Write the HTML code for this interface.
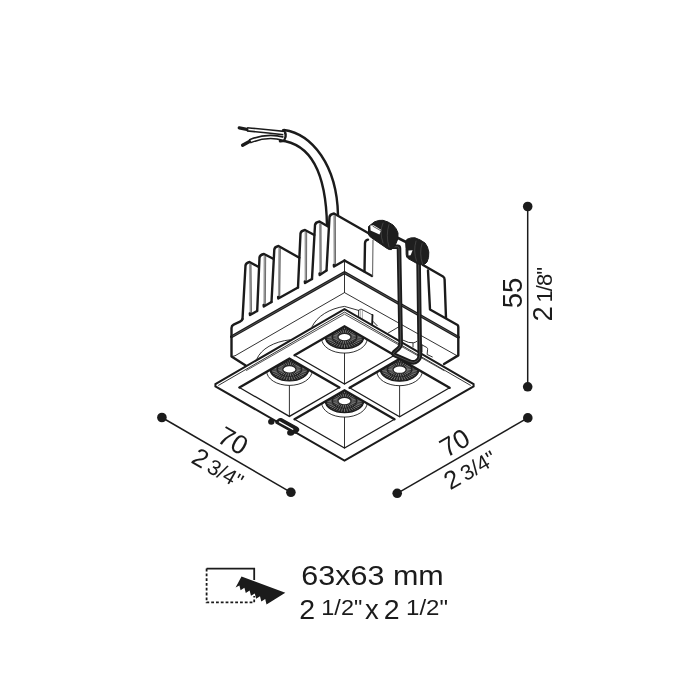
<!DOCTYPE html>
<html><head><meta charset="utf-8"><title>diagram</title>
<style>
html,body{margin:0;padding:0;background:#fff;}
body{width:700px;height:700px;overflow:hidden;font-family:"Liberation Sans",sans-serif;}
svg{display:block;filter:grayscale(1) blur(0.28px);}
text{font-family:"Liberation Sans",sans-serif;fill:#1b1b1b;}
</style></head><body>
<svg width="700" height="700" viewBox="0 0 700 700">
<rect width="700" height="700" fill="#ffffff"/>
<g id="cable" stroke-linecap="round" stroke-linejoin="round">
<path d="M284,130 C312,134 337,165 338,215 L327,226 C326,165 306,143 280,140.5 Z" fill="#fff" stroke="#1b1b1b" stroke-width="0" />
<path d="M284,130 C312,134 337,165 338,215" fill="none" stroke="#1b1b1b" stroke-width="2.4" />
<path d="M280,140.5 C306,143 326,165 327,226" fill="none" stroke="#1b1b1b" stroke-width="2.4" />
<path d="M283,130.2 Q287.6,134 284.4,139.6 Q282.6,141.8 280,141.3" fill="none" stroke="#1b1b1b" stroke-width="2.4" />
<path d="M283.5,133 Q265,130.8 247,129.4" fill="none" stroke="#1b1b1b" stroke-width="4.8" stroke-linecap="butt"/>
<path d="M284,133.1 Q265,130.8 246.6,129.3" fill="none" stroke="#fff" stroke-width="1.6" stroke-linecap="butt"/>
<path d="M246.8,129.4 L239.3,127.9" fill="none" stroke="#1b1b1b" stroke-width="3.4" />
<path d="M283,138.6 Q267,134.2 249.6,141.4" fill="none" stroke="#1b1b1b" stroke-width="4.8" stroke-linecap="butt"/>
<path d="M283.5,138.8 Q267,134.2 249.2,141.6" fill="none" stroke="#fff" stroke-width="1.6" stroke-linecap="butt"/>
<path d="M249.4,141.5 L242.6,145.2" fill="none" stroke="#1b1b1b" stroke-width="3.4" />
</g>
<g id="fins" stroke-linejoin="round" stroke-linecap="round">
<path d="M245.5,265.5 L249.5,262.0 L258.7,267.0 L257.0,311.0 L250.0,315.0 L242.5,319.0Z" fill="#fff" stroke="#1b1b1b" stroke-width="0" />
<path d="M259.5,257.5 L264.0,254.0 L273.2,258.7 L271.5,302.0 L263.8,306.5 L257.2,311.0Z" fill="#fff" stroke="#1b1b1b" stroke-width="0" />
<path d="M274.3,249.5 L278.5,246.0 L299.3,257.7 L298.0,287.5 L278.3,298.5 L271.5,302.0Z" fill="#fff" stroke="#1b1b1b" stroke-width="0" />
<path d="M300.5,233.5 L305.0,230.0 L314.3,235.0 L312.0,279.0 L305.0,283.0 L298.0,287.5Z" fill="#fff" stroke="#1b1b1b" stroke-width="0" />
<path d="M315.0,225.0 L319.5,221.5 L328.0,226.5 L326.5,270.5 L319.7,275.0 L312.0,279.0Z" fill="#fff" stroke="#1b1b1b" stroke-width="0" />
<path d="M329.5,217.0 L334.0,213.5 L369.0,233.5 L344.5,260.5 L334.0,266.5 L326.5,270.5Z" fill="#fff" stroke="#1b1b1b" stroke-width="0" />
<line x1="250.0" y1="264.5" x2="250.6" y2="314" stroke="#9a9a9a" stroke-width="2"/>
<line x1="251.1" y1="264.5" x2="251.5" y2="314" stroke="#444" stroke-width="0.7"/>
<path d="M242.5,319 L245.5,265.5 Q245.8,262.8 249.5,262 L258.7,267" fill="none" stroke="#1b1b1b" stroke-width="2.4" />
<path d="M249.8,313.4 L250,315 L257,311" fill="none" stroke="#1b1b1b" stroke-width="2.4" />
<line x1="264.6" y1="256.5" x2="264.40000000000003" y2="305.5" stroke="#9a9a9a" stroke-width="2"/>
<line x1="265.7" y1="256.5" x2="265.3" y2="305.5" stroke="#444" stroke-width="0.7"/>
<path d="M257.2,311 L259.5,257.5 Q259.8,254.8 264,254 L273.2,258.7" fill="none" stroke="#1b1b1b" stroke-width="2.4" />
<path d="M263.6,304.9 L263.8,306.5 L271.5,302" fill="none" stroke="#1b1b1b" stroke-width="2.4" />
<line x1="279.3" y1="248.5" x2="278.90000000000003" y2="297.5" stroke="#9a9a9a" stroke-width="2"/>
<line x1="280.4" y1="248.5" x2="279.8" y2="297.5" stroke="#444" stroke-width="0.7"/>
<path d="M271.5,302 L274.3,249.5 Q274.6,246.8 278.5,246 L299.3,257.7" fill="none" stroke="#1b1b1b" stroke-width="2.4" />
<path d="M278.1,296.9 L278.3,298.5 L298,287.5" fill="none" stroke="#1b1b1b" stroke-width="2.4" />
<line x1="305.6" y1="232.5" x2="305.6" y2="282" stroke="#9a9a9a" stroke-width="2"/>
<line x1="306.7" y1="232.5" x2="306.5" y2="282" stroke="#444" stroke-width="0.7"/>
<path d="M298,287.5 L300.5,233.5 Q300.8,230.8 305,230 L314.3,235" fill="none" stroke="#1b1b1b" stroke-width="2.4" />
<path d="M304.8,281.4 L305,283 L312,279" fill="none" stroke="#1b1b1b" stroke-width="2.4" />
<line x1="320.0" y1="224.0" x2="320.3" y2="274" stroke="#9a9a9a" stroke-width="2"/>
<line x1="321.09999999999997" y1="224.0" x2="321.2" y2="274" stroke="#444" stroke-width="0.7"/>
<path d="M312,279 L315,225 Q315.3,222.3 319.5,221.5 L328,226.5" fill="none" stroke="#1b1b1b" stroke-width="2.4" />
<path d="M319.5,273.4 L319.7,275 L326.5,270.5" fill="none" stroke="#1b1b1b" stroke-width="2.4" />
<line x1="334.3" y1="216.0" x2="334.6" y2="265.5" stroke="#9a9a9a" stroke-width="2"/>
<line x1="335.4" y1="216.0" x2="335.5" y2="265.5" stroke="#444" stroke-width="0.7"/>
<path d="M326.5,270.5 L329.5,217 Q329.8,214.3 334,213.5 L369,233.5" fill="none" stroke="#1b1b1b" stroke-width="2.4" />
<path d="M333.8,264.9 L334,266.5 L344.5,260.5" fill="none" stroke="#1b1b1b" stroke-width="2.4" />
</g>
<g id="housing" stroke-linejoin="round" stroke-linecap="round">
<path d="M242.5,319 Q242.3,320.6 240,321.6 L233.6,324.6 Q231.5,325.6 231.5,328 L231.5,356.5 L245.7,365.4" fill="none" stroke="#1b1b1b" stroke-width="2.4" />
<path d="M231.5,336.8 L344.5,272.6 L458.3,337.2" fill="none" stroke="#1b1b1b" stroke-width="3.0" />
<path d="M233,336 L344.5,272.6 L457,336.5" fill="none" stroke="#8a8a8a" stroke-width="0.5" />
<path d="M231.5,356.5 L235,355.8 L344.5,292.6 L456.8,355.6" fill="none" stroke="#1b1b1b" stroke-width="0.9" />
<path d="M344.5,261 L344.5,292.6" fill="none" stroke="#1b1b1b" stroke-width="0.9" />
<path d="M344.5,260.5 L372,276" fill="none" stroke="#1b1b1b" stroke-width="2.4" />
<path d="M364.5,271.5 L365,243 Q365.2,240.3 368,239.6" fill="none" stroke="#1b1b1b" stroke-width="2.4" />
<path d="M373,240 L372.6,276" fill="none" stroke="#555" stroke-width="1.0" />
<path d="M423,265 L443,276.5 Q444.6,277.5 444.6,279.5 L446,318" fill="none" stroke="#1b1b1b" stroke-width="2.4" />
<path d="M428,270.5 L430,309.5 L457.5,325 Q458.3,325.6 458.3,327 L458.3,355.4 L444,364" fill="none" stroke="#1b1b1b" stroke-width="2.4" />
<path d="M257,358.7 C261,349 274,341.5 290,339.8" fill="none" stroke="#1b1b1b" stroke-width="0.9" />
<path d="M312,326.8 C317,316 330,308.5 344.5,306.4 L358.4,310.4" fill="none" stroke="#1b1b1b" stroke-width="0.9" />
<path d="M358.4,310.4 L361,309 L372.6,315 L372.3,324" fill="none" stroke="#1b1b1b" stroke-width="0.9" />
<path d="M372.5,315 L372.2,324" fill="none" stroke="#1b1b1b" stroke-width="1.8" />
<path d="M358.6,310.6 L358.6,318" fill="none" stroke="#1b1b1b" stroke-width="0.9" />
<path d="M360.3,310 L360.3,318" fill="none" stroke="#777" stroke-width="0.6" />
<path d="M362.4,310.2 L362.4,319" fill="none" stroke="#777" stroke-width="0.6" />
<path d="M373,321.4 L377.3,325.8" fill="none" stroke="#1b1b1b" stroke-width="0.9" />
<path d="M387.6,333.4 L399,326.7" fill="none" stroke="#1b1b1b" stroke-width="0.9" />
<path d="M403,340.2 Q409,343.4 413.6,342.8 Q416,342.2 417,341.2" fill="none" stroke="#1b1b1b" stroke-width="0.9" />
<path d="M413,343 L413,347" fill="none" stroke="#1b1b1b" stroke-width="0.9" />
<path d="M422,344.9 L426.7,347.4 Q427.8,348.2 427.6,349.6 L427.1,354.5 L432.3,356.9" fill="none" stroke="#1b1b1b" stroke-width="0.9" />
<path d="M422,344.9 L422,352" fill="none" stroke="#1b1b1b" stroke-width="0.9" />
</g>
<g id="flange" stroke-linejoin="miter" stroke-linecap="round">
<path d="M344.5,309.1 L215.4,384.1 L215.4,386.3 L344.5,460.6 L473.6,386.3 L473.6,384.1Z" fill="#fff" stroke="#1b1b1b" stroke-width="2.0" />
<path d="M218.6,385.3 L344.5,312.1 L470.4,385.3" fill="none" stroke="#1b1b1b" stroke-width="0.9" />
<path d="M246.5,370.4 L344.5,314.2 L444,370.6" fill="none" stroke="#1b1b1b" stroke-width="0.75" />
<clipPath id="cc0"><path d="M344.5,326.3 L294.5,355.2 L344.5,384.1 L394.5,355.2Z"/></clipPath>
<g clip-path="url(#cc0)">
<ellipse cx="344.5" cy="336.90000000000003" rx="19.3" ry="11.7" fill="#222"/>
<path d="M352.10,336.90L355.50,336.90M351.88,338.00L355.18,338.50M351.23,339.04L354.24,340.00M350.19,339.96L352.73,341.32M348.82,340.69L350.75,342.39M347.19,341.21L348.40,343.14M345.42,341.47L345.83,343.52M343.58,341.47L343.17,343.52M341.81,341.21L340.60,343.14M340.18,340.69L338.25,342.39M338.81,339.96L336.27,341.32M337.77,339.04L334.76,340.00M337.12,338.00L333.82,338.50M336.90,336.90L333.50,336.90M337.12,335.80L333.82,335.30M337.77,334.76L334.76,333.80M338.81,333.84L336.27,332.48M340.18,333.11L338.25,331.41M341.81,332.59L340.60,330.66M343.58,332.33L343.17,330.28M345.42,332.33L345.83,330.28M347.19,332.59L348.40,330.66M348.82,333.11L350.75,331.41M350.19,333.84L352.73,332.48M351.23,334.76L354.24,333.80M351.88,335.80L355.18,335.30" stroke="#b0b0b0" stroke-width="0.6" fill="none"/>
<path d="M357.85,337.57L361.74,337.77M357.49,338.89L361.27,339.47M356.77,340.16L360.34,341.11M355.72,341.34L358.98,342.64M354.36,342.40L357.23,344.00M352.73,343.31L355.13,345.18M350.88,344.04L352.73,346.12M348.85,344.58L350.12,346.82M346.71,344.91L347.35,347.24M344.50,345.02L344.50,347.39M342.29,344.91L341.65,347.24M340.15,344.58L338.88,346.82M338.12,344.04L336.27,346.12M336.27,343.31L333.87,345.18M334.64,342.40L331.77,344.00M333.28,341.34L330.02,342.64M332.23,340.16L328.66,341.11M331.51,338.89L327.73,339.47M331.15,337.57L327.26,337.77M331.15,336.23L327.26,336.03M331.51,334.91L327.73,334.33M332.23,333.64L328.66,332.69M333.28,332.46L330.02,331.16M334.64,331.40L331.77,329.80M336.27,330.49L333.87,328.62M338.12,329.76L336.27,327.68M340.15,329.22L338.88,326.98M342.29,328.89L341.65,326.56M344.50,328.78L344.50,326.41M346.71,328.89L347.35,326.56M348.85,329.22L350.12,326.98M350.88,329.76L352.73,327.68M352.73,330.49L355.13,328.62M354.36,331.40L357.23,329.80M355.72,332.46L358.98,331.16M356.77,333.64L360.34,332.69M357.49,334.91L361.27,334.33M357.85,336.23L361.74,336.03" stroke="#b0b0b0" stroke-width="0.6" fill="none"/>
<ellipse cx="344.5" cy="336.90000000000003" rx="19.3" ry="11.7" fill="none" stroke="#1b1b1b" stroke-width="1.2"/>
<ellipse cx="344.5" cy="337.1" rx="5.9" ry="3.1" fill="#fff"/>
<ellipse cx="344.5" cy="338.70000000000005" rx="22.8" ry="14.4" fill="none" stroke="#1b1b1b" stroke-width="0.9"/>
</g>
<path d="M344.5,353.3 L344.5,384.09999999999997" fill="none" stroke="#1b1b1b" stroke-width="0.9" />
<path d="M294.5,355.2 L344.5,384.1 L394.5,355.2" fill="none" stroke="#1b1b1b" stroke-width="1.3" />
<path d="M294.5,355.2 L344.5,326.3 L394.5,355.2" fill="none" stroke="#1b1b1b" stroke-width="2.4" />
<clipPath id="cc1"><path d="M289.4,358.6 L239.4,387.5 L289.4,416.4 L339.4,387.5Z"/></clipPath>
<g clip-path="url(#cc1)">
<ellipse cx="289.4" cy="369.20000000000005" rx="19.3" ry="11.7" fill="#222"/>
<path d="M297.00,369.20L300.40,369.20M296.78,370.30L300.08,370.80M296.13,371.34L299.14,372.30M295.09,372.26L297.63,373.62M293.72,372.99L295.65,374.69M292.09,373.51L293.30,375.44M290.32,373.77L290.73,375.82M288.48,373.77L288.07,375.82M286.71,373.51L285.50,375.44M285.08,372.99L283.15,374.69M283.71,372.26L281.17,373.62M282.67,371.34L279.66,372.30M282.02,370.30L278.72,370.80M281.80,369.20L278.40,369.20M282.02,368.10L278.72,367.60M282.67,367.06L279.66,366.10M283.71,366.14L281.17,364.78M285.08,365.41L283.15,363.71M286.71,364.89L285.50,362.96M288.48,364.63L288.07,362.58M290.32,364.63L290.73,362.58M292.09,364.89L293.30,362.96M293.72,365.41L295.65,363.71M295.09,366.14L297.63,364.78M296.13,367.06L299.14,366.10M296.78,368.10L300.08,367.60" stroke="#b0b0b0" stroke-width="0.6" fill="none"/>
<path d="M302.75,369.87L306.64,370.07M302.39,371.19L306.17,371.77M301.67,372.46L305.24,373.41M300.62,373.64L303.88,374.94M299.26,374.70L302.13,376.30M297.63,375.61L300.03,377.48M295.78,376.34L297.63,378.42M293.75,376.88L295.02,379.12M291.61,377.21L292.25,379.54M289.40,377.32L289.40,379.69M287.19,377.21L286.55,379.54M285.05,376.88L283.78,379.12M283.02,376.34L281.17,378.42M281.17,375.61L278.77,377.48M279.54,374.70L276.67,376.30M278.18,373.64L274.92,374.94M277.13,372.46L273.56,373.41M276.41,371.19L272.63,371.77M276.05,369.87L272.16,370.07M276.05,368.53L272.16,368.33M276.41,367.21L272.63,366.63M277.13,365.94L273.56,364.99M278.18,364.76L274.92,363.46M279.54,363.70L276.67,362.10M281.17,362.79L278.77,360.92M283.02,362.06L281.17,359.98M285.05,361.52L283.78,359.28M287.19,361.19L286.55,358.86M289.40,361.08L289.40,358.71M291.61,361.19L292.25,358.86M293.75,361.52L295.02,359.28M295.78,362.06L297.63,359.98M297.63,362.79L300.03,360.92M299.26,363.70L302.13,362.10M300.62,364.76L303.88,363.46M301.67,365.94L305.24,364.99M302.39,367.21L306.17,366.63M302.75,368.53L306.64,368.33" stroke="#b0b0b0" stroke-width="0.6" fill="none"/>
<ellipse cx="289.4" cy="369.20000000000005" rx="19.3" ry="11.7" fill="none" stroke="#1b1b1b" stroke-width="1.2"/>
<ellipse cx="289.4" cy="369.40000000000003" rx="5.9" ry="3.1" fill="#fff"/>
<ellipse cx="289.4" cy="371.00000000000006" rx="22.8" ry="14.4" fill="none" stroke="#1b1b1b" stroke-width="0.9"/>
</g>
<path d="M289.4,385.6 L289.4,416.4" fill="none" stroke="#1b1b1b" stroke-width="0.9" />
<path d="M239.4,387.5 L289.4,416.4 L339.4,387.5" fill="none" stroke="#1b1b1b" stroke-width="1.3" />
<path d="M239.4,387.5 L289.4,358.6 L339.4,387.5" fill="none" stroke="#1b1b1b" stroke-width="2.4" />
<clipPath id="cc2"><path d="M399.6,358.9 L349.6,387.8 L399.6,416.7 L449.6,387.8Z"/></clipPath>
<g clip-path="url(#cc2)">
<ellipse cx="399.6" cy="369.50000000000006" rx="19.3" ry="11.7" fill="#222"/>
<path d="M407.20,369.50L410.60,369.50M406.98,370.60L410.28,371.10M406.33,371.64L409.34,372.60M405.29,372.56L407.83,373.92M403.92,373.29L405.85,374.99M402.29,373.81L403.50,375.74M400.52,374.07L400.93,376.12M398.68,374.07L398.27,376.12M396.91,373.81L395.70,375.74M395.28,373.29L393.35,374.99M393.91,372.56L391.37,373.92M392.87,371.64L389.86,372.60M392.22,370.60L388.92,371.10M392.00,369.50L388.60,369.50M392.22,368.40L388.92,367.90M392.87,367.36L389.86,366.40M393.91,366.44L391.37,365.08M395.28,365.71L393.35,364.01M396.91,365.19L395.70,363.26M398.68,364.93L398.27,362.88M400.52,364.93L400.93,362.88M402.29,365.19L403.50,363.26M403.92,365.71L405.85,364.01M405.29,366.44L407.83,365.08M406.33,367.36L409.34,366.40M406.98,368.40L410.28,367.90" stroke="#b0b0b0" stroke-width="0.6" fill="none"/>
<path d="M412.95,370.17L416.84,370.37M412.59,371.49L416.37,372.07M411.87,372.76L415.44,373.71M410.82,373.94L414.08,375.24M409.46,375.00L412.33,376.60M407.83,375.91L410.23,377.78M405.98,376.64L407.83,378.72M403.95,377.18L405.22,379.42M401.81,377.51L402.45,379.84M399.60,377.62L399.60,379.99M397.39,377.51L396.75,379.84M395.25,377.18L393.98,379.42M393.22,376.64L391.37,378.72M391.37,375.91L388.97,377.78M389.74,375.00L386.87,376.60M388.38,373.94L385.12,375.24M387.33,372.76L383.76,373.71M386.61,371.49L382.83,372.07M386.25,370.17L382.36,370.37M386.25,368.83L382.36,368.63M386.61,367.51L382.83,366.93M387.33,366.24L383.76,365.29M388.38,365.06L385.12,363.76M389.74,364.00L386.87,362.40M391.37,363.09L388.97,361.22M393.22,362.36L391.37,360.28M395.25,361.82L393.98,359.58M397.39,361.49L396.75,359.16M399.60,361.38L399.60,359.01M401.81,361.49L402.45,359.16M403.95,361.82L405.22,359.58M405.98,362.36L407.83,360.28M407.83,363.09L410.23,361.22M409.46,364.00L412.33,362.40M410.82,365.06L414.08,363.76M411.87,366.24L415.44,365.29M412.59,367.51L416.37,366.93M412.95,368.83L416.84,368.63" stroke="#b0b0b0" stroke-width="0.6" fill="none"/>
<ellipse cx="399.6" cy="369.50000000000006" rx="19.3" ry="11.7" fill="none" stroke="#1b1b1b" stroke-width="1.2"/>
<ellipse cx="399.6" cy="369.70000000000005" rx="5.9" ry="3.1" fill="#fff"/>
<ellipse cx="399.6" cy="371.30000000000007" rx="22.8" ry="14.4" fill="none" stroke="#1b1b1b" stroke-width="0.9"/>
</g>
<path d="M399.6,385.90000000000003 L399.6,416.7" fill="none" stroke="#1b1b1b" stroke-width="0.9" />
<path d="M349.6,387.8 L399.6,416.7 L449.6,387.8" fill="none" stroke="#1b1b1b" stroke-width="1.3" />
<path d="M349.6,387.8 L399.6,358.9 L449.6,387.8" fill="none" stroke="#1b1b1b" stroke-width="2.4" />
<clipPath id="cc3"><path d="M344.5,390.3 L294.5,419.2 L344.5,448.1 L394.5,419.2Z"/></clipPath>
<g clip-path="url(#cc3)">
<ellipse cx="344.5" cy="400.90000000000003" rx="19.3" ry="11.7" fill="#222"/>
<path d="M352.10,400.90L355.50,400.90M351.88,402.00L355.18,402.50M351.23,403.04L354.24,404.00M350.19,403.96L352.73,405.32M348.82,404.69L350.75,406.39M347.19,405.21L348.40,407.14M345.42,405.47L345.83,407.52M343.58,405.47L343.17,407.52M341.81,405.21L340.60,407.14M340.18,404.69L338.25,406.39M338.81,403.96L336.27,405.32M337.77,403.04L334.76,404.00M337.12,402.00L333.82,402.50M336.90,400.90L333.50,400.90M337.12,399.80L333.82,399.30M337.77,398.76L334.76,397.80M338.81,397.84L336.27,396.48M340.18,397.11L338.25,395.41M341.81,396.59L340.60,394.66M343.58,396.33L343.17,394.28M345.42,396.33L345.83,394.28M347.19,396.59L348.40,394.66M348.82,397.11L350.75,395.41M350.19,397.84L352.73,396.48M351.23,398.76L354.24,397.80M351.88,399.80L355.18,399.30" stroke="#b0b0b0" stroke-width="0.6" fill="none"/>
<path d="M357.85,401.57L361.74,401.77M357.49,402.89L361.27,403.47M356.77,404.16L360.34,405.11M355.72,405.34L358.98,406.64M354.36,406.40L357.23,408.00M352.73,407.31L355.13,409.18M350.88,408.04L352.73,410.12M348.85,408.58L350.12,410.82M346.71,408.91L347.35,411.24M344.50,409.02L344.50,411.39M342.29,408.91L341.65,411.24M340.15,408.58L338.88,410.82M338.12,408.04L336.27,410.12M336.27,407.31L333.87,409.18M334.64,406.40L331.77,408.00M333.28,405.34L330.02,406.64M332.23,404.16L328.66,405.11M331.51,402.89L327.73,403.47M331.15,401.57L327.26,401.77M331.15,400.23L327.26,400.03M331.51,398.91L327.73,398.33M332.23,397.64L328.66,396.69M333.28,396.46L330.02,395.16M334.64,395.40L331.77,393.80M336.27,394.49L333.87,392.62M338.12,393.76L336.27,391.68M340.15,393.22L338.88,390.98M342.29,392.89L341.65,390.56M344.50,392.78L344.50,390.41M346.71,392.89L347.35,390.56M348.85,393.22L350.12,390.98M350.88,393.76L352.73,391.68M352.73,394.49L355.13,392.62M354.36,395.40L357.23,393.80M355.72,396.46L358.98,395.16M356.77,397.64L360.34,396.69M357.49,398.91L361.27,398.33M357.85,400.23L361.74,400.03" stroke="#b0b0b0" stroke-width="0.6" fill="none"/>
<ellipse cx="344.5" cy="400.90000000000003" rx="19.3" ry="11.7" fill="none" stroke="#1b1b1b" stroke-width="1.2"/>
<ellipse cx="344.5" cy="401.1" rx="5.9" ry="3.1" fill="#fff"/>
<ellipse cx="344.5" cy="402.70000000000005" rx="22.8" ry="14.4" fill="none" stroke="#1b1b1b" stroke-width="0.9"/>
</g>
<path d="M344.5,417.3 L344.5,448.09999999999997" fill="none" stroke="#1b1b1b" stroke-width="0.9" />
<path d="M294.5,419.2 L344.5,448.1 L394.5,419.2" fill="none" stroke="#1b1b1b" stroke-width="1.3" />
<path d="M294.5,419.2 L344.5,390.3 L394.5,419.2" fill="none" stroke="#1b1b1b" stroke-width="2.4" />
</g>
<g id="spring" stroke-linejoin="round" stroke-linecap="round">
<path d="M396,237 L407,242.5" fill="none" stroke="#1b1b1b" stroke-width="2.6" />
<path d="M392.6,246.8 L397.6,246.8 Q399,246.8 399,248.6 L400.7,343.5 Q400.8,346.6 398.5,348.6 L394.4,352 Q392.2,354 394.8,355.2 L409.6,361.6 Q414,363.4 417,361 Q419.8,358.8 419.8,355.5 L418.6,263" fill="none" stroke="#1b1b1b" stroke-width="4.6" />
<path d="M392.6,246.8 L397.6,246.8 Q399,246.8 399,248.6 L400.7,343.5 Q400.8,346.6 398.5,348.6 L394.4,352 Q392.2,354 394.8,355.2 L409.6,361.6 Q414,363.4 417,361 Q419.8,358.8 419.8,355.5 L418.6,263" fill="none" stroke="#5a5a5a" stroke-width="0.8" />
<path d="M368.5,234 L368.5,226.5 L372,223.8 L374.5,221.8 Q379,219.8 383,220.3 Q388,221.4 393,225 Q396.8,228.6 398,233 Q398.6,239 396,243.5 Q394,247.4 391.5,249.6 Q389.4,250 387,248.4 L371,237.4 Q368.5,236 368.5,234 Z" fill="#1e1e1e" stroke="#1b1b1b" stroke-width="1.0" />
<path d="M370.3,225.6 L373.6,225.2 L381.4,230 L379.4,234.4 L370.6,230.4 Z" fill="#fff" stroke="#1b1b1b" stroke-width="0.0" />
<path d="M373,226.3 L380.6,230.6" fill="none" stroke="#333" stroke-width="0.8" />
<path d="M383,223 Q379,232 383,243" fill="none" stroke="#555" stroke-width="0.6" />
<path d="M389,224.5 Q385.5,235 389,247" fill="none" stroke="#555" stroke-width="0.6" />
<path d="M406,248 L405.6,241.2 L407,239.3 Q411,237.2 415,237.8 Q420.5,239.6 425,243 Q428,246.4 428.8,252 Q429.2,258 427,262 Q425.4,264.6 422,264.8 Q419,264.6 416,263 L408,258.5 Q406.3,257.4 406.2,255 Z" fill="#1e1e1e" stroke="#1b1b1b" stroke-width="1.0" />
<path d="M408.4,250.6 L412.6,250.2 L410.6,255.2 L408.5,255.6 Z" fill="#fff" stroke="#1b1b1b" stroke-width="0.0" />
<path d="M416,241 Q413,251 416.5,261" fill="none" stroke="#555" stroke-width="0.6" />
<path d="M422,243.5 Q419,253 422.5,264" fill="none" stroke="#555" stroke-width="0.6" />
</g>
<g id="clip" stroke-linejoin="round" stroke-linecap="round">
<ellipse cx="271.3" cy="421.8" rx="3.2" ry="3.0" fill="#1b1b1b"/>
<ellipse cx="290.7" cy="432.7" rx="3.6" ry="3.0" fill="#1b1b1b"/>
<path d="M276,421.4 L279.4,418.9 Q280.6,418.3 282,419 L297,427.3 Q299.2,428.8 298.4,430.6 L296.6,432.6 Q295,433.6 293.4,432.6 L276,422.8 Z" fill="#1b1b1b" stroke="#1b1b1b" stroke-width="1.4" />
<path d="M279.4,421.9 L292.8,429.3" fill="none" stroke="#fff" stroke-width="1.3" />
</g>
<g id="dims">
<line x1="161.9" y1="417.5" x2="290.9" y2="492.3" stroke="#1b1b1b" stroke-width="1.5"/>
<circle cx="161.9" cy="417.5" r="4.8" fill="#1b1b1b"/>
<circle cx="290.9" cy="492.3" r="4.8" fill="#1b1b1b"/>
<line x1="397.2" y1="493.3" x2="527.8" y2="417.9" stroke="#1b1b1b" stroke-width="1.5"/>
<circle cx="397.2" cy="493.3" r="4.8" fill="#1b1b1b"/>
<circle cx="527.8" cy="417.9" r="4.8" fill="#1b1b1b"/>
<line x1="527.7" y1="206.5" x2="527.7" y2="386.8" stroke="#1b1b1b" stroke-width="1.5"/>
<circle cx="527.7" cy="206.5" r="4.8" fill="#1b1b1b"/>
<circle cx="527.7" cy="386.8" r="4.8" fill="#1b1b1b"/>
<text transform="translate(215.8,441.2) rotate(30)" font-size="26.5">70</text>
<text transform="translate(190,462) rotate(30)" font-size="25.5">2<tspan font-size="21.5" dx="3.6">3/4&quot;</tspan></text>
<text transform="translate(446.5,458.1) rotate(-30)" font-size="26.5">70</text>
<text transform="translate(450.3,490.4) rotate(-30)" font-size="25.5">2<tspan font-size="21.5" dx="3.6">3/4&quot;</tspan></text>
<text transform="translate(521.7,308.2) rotate(-90)" font-size="27.5">55</text>
<text transform="translate(551.6,321.5) rotate(-90)" font-size="27.5">2<tspan font-size="22" dx="3.8" letter-spacing="-1">1/8&quot;</tspan></text>
</g>
<g id="legend">
<path d="M206.6,568.6 L254.2,568.6 L254.2,580" fill="none" stroke="#1b1b1b" stroke-width="1.8" />
<path d="M206.6,568.6 L206.6,602.4 L254.2,602.4 L254.2,596" fill="none" stroke="#1b1b1b" stroke-width="1.8" stroke-dasharray="2.8 2"/>
<path d="M241.5,576.5 L285.3,592.7 L266.5,604.4 L265.2,599 L261.3,601.5 L260,596.2 L256.2,598.7 L254.8,593.4 L251,595.8 L249.6,590.6 L245.8,593 L244.4,587.8 L240.6,590.2 L239.4,585.6 L235.6,587.4 Z" fill="#1b1b1b" stroke="#1b1b1b" stroke-width="0" />
<text x="301.3" y="584.6" font-size="28" textLength="142.5" lengthAdjust="spacingAndGlyphs">63x63 mm</text>
<text x="299.2" y="619.2" font-size="28.5">2</text>
<text x="321.3" y="614.9" font-size="21.5" textLength="41" lengthAdjust="spacingAndGlyphs">1/2&quot;</text>
<text x="365" y="619.2" font-size="27.5">x</text>
<text x="383.8" y="619.2" font-size="28.5">2</text>
<text x="406" y="614.9" font-size="21.5" textLength="42" lengthAdjust="spacingAndGlyphs">1/2&quot;</text>
</g>
</svg>
</body></html>
